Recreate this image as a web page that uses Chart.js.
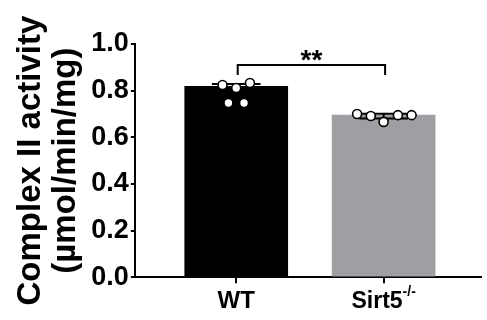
<!DOCTYPE html>
<html>
<head>
<meta charset="utf-8">
<script src="https://cdn.jsdelivr.net/npm/chart.js@4.4.0/dist/chart.umd.min.js"></script>
<style>
  html, body { margin: 0; padding: 0; background: #fff; }
  #wrap { width: 487px; height: 320px; }
</style>
</head>
<body>
<div id="wrap"><canvas id="myCanvas"></canvas></div>
<script>
// dati
const categories = ["WT", "Sirt5"];
const means = [0.818, 0.695];
const errLow = [0.805, 0.680];
const errHigh = [0.828, 0.701];
const barColors = ["#000000", "#9f9fa3"];

// punti singoli: valori e piccolo spostamento orizzontale (jitter)
const wtValues = [0.824, 0.811, 0.833, 0.747, 0.747];
const wtJitter = [-0.093, 0, 0.093, -0.053, 0.053];
const koValues = [0.700, 0.691, 0.666, 0.695, 0.695];
const koJitter = [-0.18, -0.087, 0, 0.097, 0.19];

const yTicks = [0, 0.2, 0.4, 0.6, 0.8, 1.0];
const sigLabel = "**";
const sigY = 0.91;
const sigLeg = 0.867;

const FONT = "'Liberation Sans', Arial, sans-serif";

// punti per il dataset scatter
const points = [];
wtValues.forEach((v, i) => points.push({x: 1 + wtJitter[i], y: v}));
koValues.forEach((v, i) => points.push({x: 2 + koJitter[i], y: v}));

// plugin per barre d'errore, parentesi di significativita' e etichetta Sirt5 con apice "-/-"
const extras = {
  id: 'extras',
  afterDatasetDraw(chart, args) {
    if (args.meta.type !== 'bar') return;
    const ctx = chart.ctx;
    const x = chart.scales.x, y = chart.scales.y;
    ctx.save();
    ctx.strokeStyle = '#000';
    ctx.lineWidth = 2;
    for (let i = 0; i < categories.length; i++) {
      const cx = x.getPixelForValue(i + 1);
      const half = x.getPixelForValue(1.165) - x.getPixelForValue(1);
      ctx.beginPath();
      ctx.moveTo(cx, y.getPixelForValue(errLow[i]));
      ctx.lineTo(cx, y.getPixelForValue(errHigh[i]));
      [errLow[i], errHigh[i]].forEach(v => {
        const py = y.getPixelForValue(v);
        ctx.moveTo(cx - half, py);
        ctx.lineTo(cx + half, py);
      });
      ctx.stroke();
    }
    ctx.restore();
  },
  afterDraw(chart) {
    const ctx = chart.ctx;
    const x = chart.scales.x, y = chart.scales.y;
    ctx.save();
    // parentesi
    const x1 = x.getPixelForValue(1.01), x2 = x.getPixelForValue(2.01);
    const yb = y.getPixelForValue(sigY), yl = y.getPixelForValue(sigLeg);
    ctx.strokeStyle = '#000';
    ctx.lineWidth = 2;
    ctx.beginPath();
    ctx.moveTo(x1, yl);
    ctx.lineTo(x1, yb);
    ctx.lineTo(x2, yb);
    ctx.lineTo(x2, yl);
    ctx.stroke();
    ctx.fillStyle = '#000';
    ctx.font = "bold 28px " + FONT;
    ctx.textAlign = 'center';
    ctx.textBaseline = 'alphabetic';
    ctx.fillText(sigLabel, (x1 + x2) / 2, yb + 4);

    // etichetta Sirt5 con apice
    const main = categories[1];
    ctx.font = "bold 23px " + FONT;
    const wMain = ctx.measureText(main).width;
    ctx.font = "bold 14px " + FONT;
    const sup = "-/-";
    const wSup = ctx.measureText(sup).width;
    const cx = x.getPixelForValue(2);
    const left = cx - (wMain + wSup) / 2;
    const base = x.top + 31;
    ctx.textAlign = 'left';
    ctx.font = "bold 23px " + FONT;
    ctx.fillText(main, left, base);
    ctx.font = "bold 14px " + FONT;
    ctx.fillText(sup, left + wMain, base - 12);
    ctx.restore();
  }
};

const data = {
  datasets: [
    {
      type: 'scatter',
      data: points,
      backgroundColor: '#ffffff',
      borderColor: '#000000',
      borderWidth: 1.6,
      pointRadius: 4.5,
      order: 0
    },
    {
      type: 'bar',
      data: means.map((m, i) => ({x: i + 1, y: m})),
      backgroundColor: barColors,
      barThickness: 103,
      order: 1
    }
  ]
};

const config = {
  type: 'bar',
  data: data,
  options: {
    responsive: false,
    animation: false,
    layout: { padding: { left: 10, top: 44, right: 0, bottom: 0 } },
    plugins: {
      legend: { display: false },
      tooltip: { enabled: false }
    },
    scales: {
      x: {
        type: 'linear',
        offset: false,
        min: 0.312,
        max: 2.66,
        afterBuildTicks: (scale) => { scale.ticks = [{value: 1}, {value: 2}]; },
        grid: {
          display: true, offset: false, drawOnChartArea: false, drawTicks: true, tickLength: 6, lineWidth: 2,
          color: '#000'
        },
        border: { display: true, color: '#000', width: 2 },
        ticks: {
          color: '#000',
          font: { family: FONT, size: 24, weight: 'bold' },
          padding: 4,
          maxRotation: 0,
          // Sirt5 viene scritto dal plugin (serve l'apice)
          callback: (v) => v === 1 ? categories[0] : ''
        }
      },
      y: {
        min: 0,
        max: 1.0,
        afterBuildTicks: (scale) => { scale.ticks = yTicks.map(v => ({value: v})); },
        grid: { display: true, drawOnChartArea: false, drawTicks: true, tickLength: 4, color: '#000', lineWidth: 2 },
        border: { display: true, color: '#000', width: 2 },
        ticks: {
          color: '#000',
          font: { family: FONT, size: 27, weight: 'bold' },
          padding: 2,
          callback: (v) => v.toFixed(1)
        },
        title: {
          display: true,
          text: ["Complex II activity", "(\u00b5mol/min/mg)"],
          color: '#000',
          font: { family: FONT, size: 33, weight: 'bold', lineHeight: 1.05 },
          padding: { top: 4, bottom: 6 }
        }
      }
    }
  },
  plugins: [extras]
};

const myCanvas = document.getElementById("myCanvas");
myCanvas.width = 487;
myCanvas.height = 320;
const chart = new Chart(myCanvas, config);
</script>
</body>
</html>
